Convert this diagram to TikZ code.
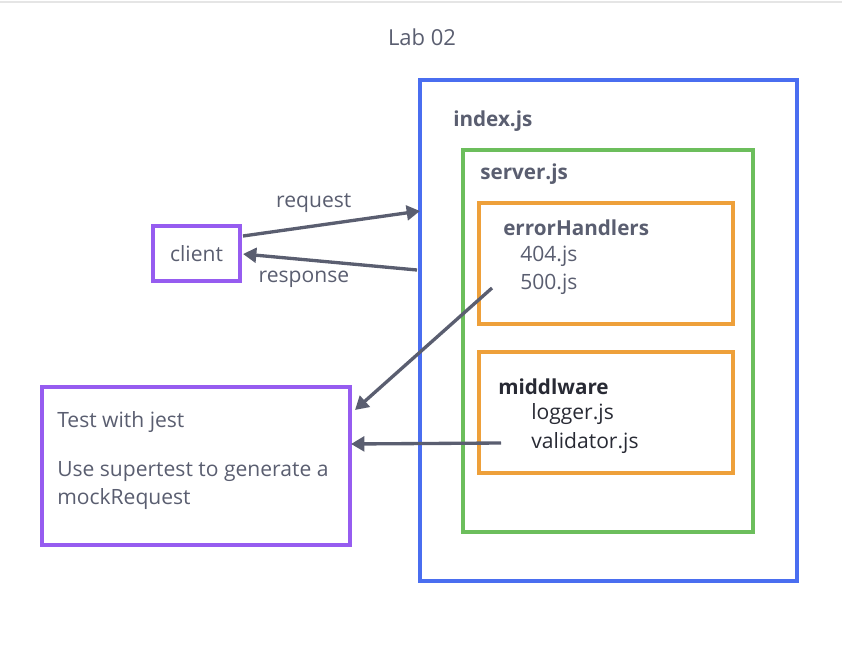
\documentclass[tikz,border=0pt]{standalone}
\usepackage{fontspec}
\setmainfont{Open Sans}
\usetikzlibrary{positioning,arrows.meta}

\definecolor{boxblue}{RGB}{74,110,240}
\definecolor{boxgreen}{RGB}{108,190,92}
\definecolor{boxorange}{RGB}{238,160,58}
\definecolor{boxpurple}{RGB}{150,92,240}
\definecolor{txtgray}{RGB}{90,94,112}
\definecolor{txtdark}{RGB}{40,42,52}

\tikzset{
  frame/.style={draw=#1, line width=2.5pt, inner sep=0pt},
  txt/.style={font=\fontsize{15.8}{21}\selectfont, text=txtgray, inner sep=0pt},
  head/.style={txt, font=\fontsize{15.5}{19}\selectfont\bfseries},
  link/.style={draw=txtgray, line width=2.5pt, -{Triangle[length=10pt,width=11pt]}}
}

\begin{document}
\begin{tikzpicture}[x=0.75pt,y=-0.75pt]
		
		\useasboundingbox (0,0) rectangle (842,645);
		\draw[black!10, line width=1pt] (0,2) -- (842,2);
		
		% title
		\node[inner sep=0pt, text=txtgray, font=\fontsize{16.5}{19}\selectfont] (title) at (422,37) {Lab 02};
		
		% nested boxes
		\node[frame=boxblue, minimum width={377*0.75pt}, minimum height={501*0.75pt}] (index) at (608.5,330.5) {};
		\node[frame=boxgreen, minimum width={290*0.75pt}, minimum height={382*0.75pt}] (server) at (608,341) {};
		\node[frame=boxorange, minimum width={254*0.75pt}, minimum height={121*0.75pt}] (errors) at (606,263.5) {};
		\node[frame=boxorange, minimum width={254*0.75pt}, minimum height={121*0.75pt}] (mware) at (606,412.5) {};
		
		\node[head, anchor=west] (indexlbl) at (453,121) {index.js};
		\node[head, anchor=west] (serverlbl) at (480,174) {server.js};
		\node[head, anchor=west] (errorslbl) at (503,228) {errorHandlers};
		\node[txt, anchor=west] (e404) at (520,256) {404.js};
		\node[txt, anchor=west] (e500) at (520,284) {500.js};
		\node[head, text=txtdark, anchor=west] (mwarelbl) at (498,387) {middlware};
		\node[txt, text=txtdark, anchor=west] (logger) at (531,414) {logger.js};
		\node[txt, text=txtdark, anchor=west] (validator) at (531,443) {validator.js};
		
		% client and tests
		\node[frame=boxpurple, minimum width={87*0.75pt}, minimum height={55*0.75pt}, txt] (client) at (196.5,253.5) {client};
		\node[frame=boxpurple, minimum width={308*0.75pt}, minimum height={158*0.75pt}] (tests) at (196,466) {};
		\node[txt, anchor=west] (jest) at (57,422) {Test with jest};
		\node[txt, anchor=north west, align=left] (super) at (57,461) {Use supertest to generate a\\mockRequest};
		
		% connectors
		\coordinate (reqA) at (243,236);
		\coordinate (reqB) at (420,211);
		\coordinate (resA) at (417,270);
		\coordinate (resB) at (243,254);
		\coordinate (errOut) at (492,288);
		\coordinate (errIn) at (355,410);
		\coordinate (valOut) at (501,443);
		\coordinate (valIn) at (351,444);
		
		\draw[link] (reqA) -- node[txt, above=9pt, pos=0.4] {request} (reqB);
		\draw[link] (resA) -- node[txt, below=7pt, pos=0.65] {response} (resB);
		\draw[link] (errOut) -- (errIn);
		\draw[link] (valOut) -- (valIn);
	\end{tikzpicture}
\end{document}
